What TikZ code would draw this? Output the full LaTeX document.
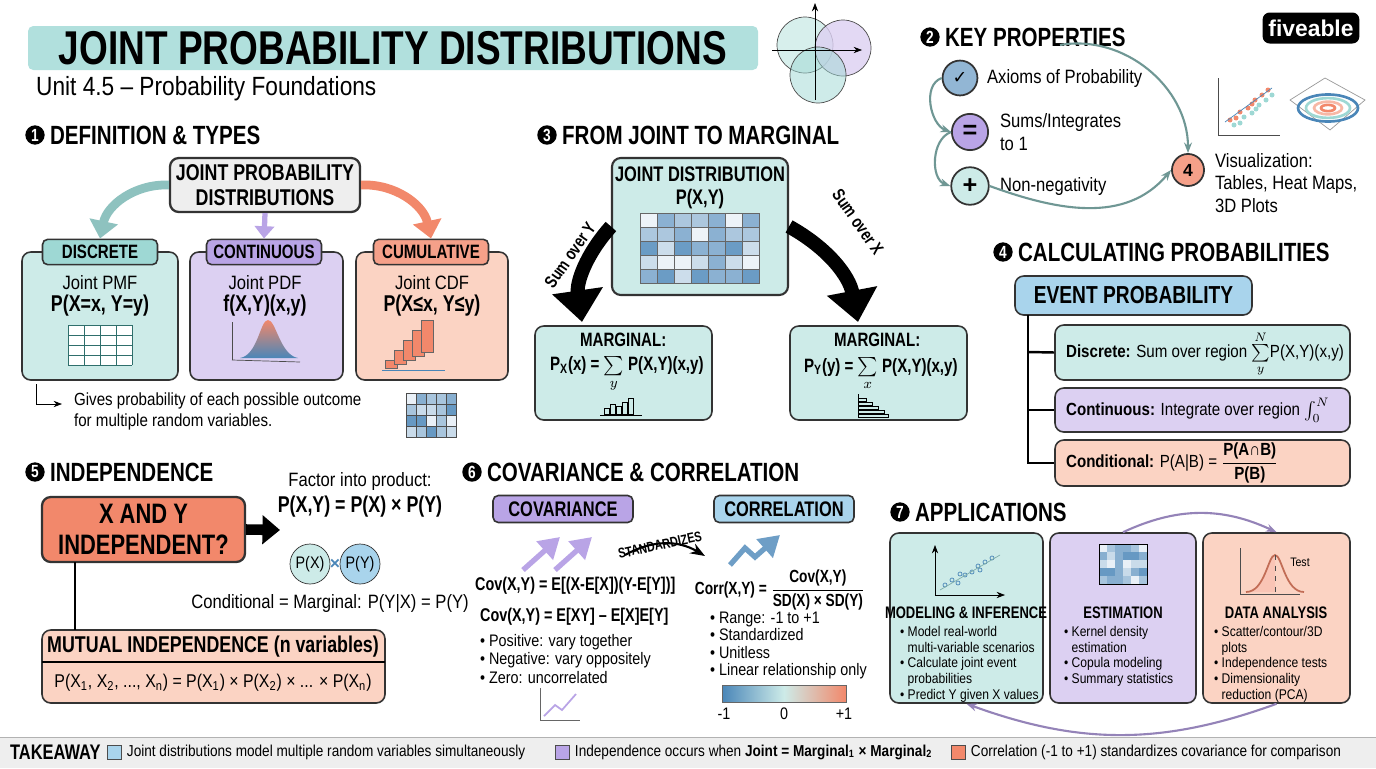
\documentclass[tikz,border=0pt]{standalone}
\usepackage{amsmath}
\usepackage{fontspec}
\setmainfont{Liberation Sans}
\newfontfamily\cond[FakeStretch=0.78]{Liberation Sans}
\newfontfamily\body[FakeStretch=0.86]{Liberation Sans}
\newfontfamily\sym{DejaVu Sans}
\usetikzlibrary{positioning,fit,arrows.meta,shapes.geometric}
\definecolor{teal1}{HTML}{CDEBE8}
\definecolor{teal2}{HTML}{9ED8D4}
\definecolor{tealD}{HTML}{2F6F6C}
\definecolor{pur1}{HTML}{DCD0F2}
\definecolor{pur2}{HTML}{B9A4E6}
\definecolor{sal1}{HTML}{FBD3C3}
\definecolor{sal2}{HTML}{F2886B}
\definecolor{blu1}{HTML}{A9D4EC}
\definecolor{blu2}{HTML}{4A86B8}
\definecolor{gray1}{HTML}{EEEEEE}
\tikzset{
  hd/.style={font=\cond\bfseries\fontsize{15}{16}\selectfont, inner sep=1pt},
  num/.style={circle, fill=black, text=white, font=\cond\bfseries\fontsize{10}{10}\selectfont, inner sep=1pt, minimum size=11pt},
  box/.style={draw=black!80, line width=0.9pt, rounded corners=5pt, inner sep=0pt},
  tab/.style={draw=black!80, line width=0.9pt, rounded corners=3pt, font=\cond\bfseries\fontsize{11}{12}\selectfont},
  txt/.style={font=\body\fontsize{9.5}{11}\selectfont, inner sep=1pt},
  big/.style={font=\cond\bfseries\fontsize{13}{14}\selectfont, inner sep=1pt},
  fat/.style={line width=5pt, -{Triangle[length=10pt,width=16pt]}},
  thin/.style={line width=1.2pt, draw=gray!70, -{Stealth[length=6pt]}},
}
\begin{document}
\begin{tikzpicture}[x=0.02cm, y=-0.02cm]
\useasboundingbox[fill=white] (0,0) rectangle (1376,768);
% title
\node[fill=teal2!80, rounded corners=3pt, fit={(28,26)(758,70)}, inner sep=0] (titlebox) {};
\node[font=\cond\bfseries\fontsize{27}{28}\selectfont] at (titlebox) {JOINT PROBABILITY DISTRIBUTIONS};
\node[anchor=west, font=\body\fontsize{15}{16}\selectfont] (sub) at (30,89) {Unit 4.5 – Probability Foundations};
% venn icon
\draw[black!70, fill=teal1, fill opacity=0.8] (805,45) circle (28);
\draw[black!70, fill=pur1, fill opacity=0.8] (843,48) circle (28);
\draw[black!70, fill=teal2, fill opacity=0.5] (818,75) circle (28);
\draw[-{Stealth}] (815,100) -- (815,3);
\draw[-{Stealth}] (772,50) -- (862,50);
% logo
\node[fill=black, rounded corners=4pt, text=white, font=\bfseries\fontsize{13}{14}\selectfont, minimum width=1.9cm, minimum height=0.62cm] (logo) at (1311,28) {fiveable};

% 1 definition
\node[num] (n1) at (35,135) {1};
\node[hd, anchor=west] at (48,135) {DEFINITION \& TYPES};
\node[box, fill=gray1, line width=1.3pt, fit={(170,158)(360,212)}] (jpd) {};
\node[big, align=center] at (jpd) {JOINT PROBABILITY\\DISTRIBUTIONS};
\node[box, fill=teal1, fit={(22,252)(178,380)}] (disc) {};
\node[box, fill=pur1, fit={(190,252)(343,380)}] (cont) {};
\node[box, fill=sal1, fit={(356,252)(508,380)}] (cum) {};
\node[tab, fill=teal2, minimum width=2.3cm] (tdisc) at (100,252) {DISCRETE};
\node[tab, fill=pur2, minimum width=2.3cm] (tcont) at (264,252) {CONTINUOUS};
\node[tab, fill=sal2!80, minimum width=2.3cm] (tcum) at (431,252) {CUMULATIVE};
\draw[fat, teal2!90!black] (jpd.west) to[bend right=40] (tdisc.north);
\draw[line width=3pt, pur2, -{Triangle[length=7pt,width=11pt]}] (jpd.south) -- (tcont.north);
\draw[fat, sal2] (jpd.east) to[bend left=40] (tcum.north);
\node[txt, font=\body\fontsize{11}{12}\selectfont] at (100,283) {Joint PMF};
\node[big] at (100,306) {P(X=x, Y=y)};
\node[txt, font=\body\fontsize{11}{12}\selectfont] at (265,283) {Joint PDF};
\node[big] at (265,306) {f(X,Y)(x,y)};
\node[txt, font=\body\fontsize{11}{12}\selectfont] at (432,283) {Joint CDF};
\node[big] at (432,306) {P(X≤x, Y≤y)};
% icons
\fill[white] (68,325) rectangle (132,365);
\foreach \i in {0,...,4} \draw[tealD] (68,325+10*\i) -- (132,325+10*\i);
\foreach \i in {0,...,4} \draw[tealD] (68+16*\i,325) -- (68+16*\i,365);
\draw[black!70] (232,360) -- (232,322); \draw[black!70] (232,360) -- (300,362);
\shade[top color=sal2, bottom color=blu2] (240,358) .. controls (258,355) and (260,320) .. (268,320) .. controls (276,320) and (280,355) .. (298,358) -- cycle;
\foreach \i in {0,...,4}
  \fill[sal2, draw=black!60] (385+9*\i,368-4*\i) rectangle ++(12,-8-6*\i);
\draw[blu2] (382,370) -- (445,370);

% caption
\draw[-{Stealth}] (36,384) |- (62,404);
\node[txt, anchor=west, align=left, font=\body\fontsize{10}{12}\selectfont] at (72,411) {Gives probability of each possible outcome\\for multiple random variables.};
\foreach \i in {0,...,4} \foreach \j in {0,...,3}{
  \pgfmathsetmacro{\s}{mod(\i*\i*3+\j*7+\i*\j,5)*18+12}
  \fill[blu2!\s!white, draw=black!70] (406+10*\i,393+11*\j) rectangle ++(10,11);}

% 3 joint to marginal
\node[num] (n3) at (547,135) {3};
\node[hd, anchor=west] at (560,135) {FROM JOINT TO MARGINAL};
\node[box, fill=teal1, line width=1.2pt, fit={(612,158)(788,295)}] (joint) {};
\node[big, align=center, font=\cond\bfseries\fontsize{12}{13}\selectfont] at (700,188) {JOINT DISTRIBUTION\\P(X,Y)};
\foreach \i in {0,...,6} \foreach \j in {0,...,4}{
  \pgfmathsetmacro{\s}{mod(\i*\i*3+\j*7+\i*\j*2,5)*18+10}
  \fill[blu2!\s!white, draw=black!60] (640+17*\i,213+14*\j) rectangle ++(17,14);}
\node[box, fill=teal1, fit={(535,326)(712,420)}] (mx) {};
\node[box, fill=teal1, fit={(790,326)(967,420)}] (my) {};
\draw[fat, line width=8pt, -{Triangle[length=18pt,width=28pt]}] (joint.west) to[bend right=25] (582,322);
\draw[fat, line width=8pt, -{Triangle[length=18pt,width=28pt]}] (joint.east) to[bend left=25] (858,322);
\node[big, rotate=55, font=\cond\bfseries\fontsize{10}{11}\selectfont] at (570,255) {Sum over Y};
\node[big, rotate=-55, font=\cond\bfseries\fontsize{10}{11}\selectfont] at (858,222) {Sum over X};
\node[big, anchor=west, font=\cond\bfseries\fontsize{11}{12}\selectfont] at (578,340) {MARGINAL:};
\node[big, anchor=west, font=\cond\bfseries\fontsize{11}{12}\selectfont] at (548,374) {P\textsubscript{X}(x) = $\sum\limits_y$ P(X,Y)(x,y)};
\node[big, anchor=west, font=\cond\bfseries\fontsize{11}{12}\selectfont] at (832,340) {MARGINAL:};
\node[big, anchor=west, font=\cond\bfseries\fontsize{11}{12}\selectfont] at (802,374) {P\textsubscript{Y}(y) = $\sum\limits_x$ P(X,Y)(x,y)};
\foreach \h [count=\i] in {6,10,8,12,16} \draw (598+6*\i,414) rectangle ++(5,-\h);
\draw (600,415) -- (642,415);
\foreach \w [count=\i] in {8,14,20,26,30} \draw (858,394+4*\i) rectangle ++(\w,3);
\draw (858,394) -- (858,416);

% 2 key properties
\node[num] (n2) at (930,37) {2};
\node[hd, anchor=west] at (943,37) {KEY PROPERTIES};
\node[circle, draw=black!80, line width=1pt, fill=blu2!60, minimum size=0.64cm, font=\sym\bfseries] (c1) at (960,78) {✓};
\node[txt, anchor=west, font=\body\fontsize{11}{13}\selectfont] at (985,78) {Axioms of Probability};
\node[circle, draw=black!80, line width=1pt, fill=pur2, minimum size=0.64cm, font=\bfseries\Large] (c2) at (970,132) {=};
\node[txt, anchor=west, align=left, font=\body\fontsize{11}{13}\selectfont] at (998,132) {Sums/Integrates\\to 1};
\node[circle, draw=black!80, line width=1pt, fill=teal1, minimum size=0.64cm, font=\bfseries\Large] (c3) at (970,186) {+};
\node[txt, anchor=west, font=\body\fontsize{11}{13}\selectfont] at (998,186) {Non-negativity};
\node[circle, draw=black!80, line width=1pt, fill=sal2!80, minimum size=0.64cm, font=\bfseries] (c4) at (1188,170) {4};
\node[txt, anchor=west, align=left, font=\body\fontsize{11}{13}\selectfont] at (1213,183) {Visualization:\\Tables, Heat Maps,\\3D Plots};
\draw[thin, draw=teal2!70!black] (c1.west) to[out=200, in=160] (c2.west);
\draw[thin, draw=teal2!70!black] (c2.west) to[out=200, in=160] (c3.west);
\draw[thin, draw=teal2!70!black] (c3.east) to[out=-20, in=230] (c4.west);
\draw[thin, draw=teal2!70!black] (1060,45) to[out=10, in=90] (c4.north);
\draw[black!70] (1218,78) -- (1218,135) -- (1280,135);
\foreach \a/\b in {1230/120,1240/112,1248/108,1255/100,1262/95,1236/118,1252/104,1268/90} {\fill[sal2] (\a,\b) circle (2.5); \fill[teal2] (\a+4,\b+5) circle (2.5);}
\draw[blu2] (1225,122) -- (1272,88);
\draw[black!40] (1290,100) -- (1325,78) -- (1365,100) -- (1330,130) -- cycle;
\foreach \r/\c in {30/blu2,22/teal2,14/sal2!60,7/sal2}
  \draw[\c, line width=1.5pt] (1328,108) ellipse ({\r} and {\r*0.45});

% 4 calculating
\node[num] (n4) at (1003,252) {4};
\node[hd, anchor=west] at (1016,252) {CALCULATING PROBABILITIES};
\node[box, fill=blu1, fit={(1015,276)(1252,315)}] (ev) {};
\node[big, font=\cond\bfseries\fontsize{14}{15}\selectfont] at (ev) {EVENT PROBABILITY};
\node[box, fill=teal1, fit={(1055,325)(1350,380)}] (ed) {};
\node[box, fill=pur1, fit={(1055,388)(1350,432)}] (ec) {};
\node[box, fill=sal1, fit={(1055,440)(1350,486)}] (eo) {};
\draw[line width=1.4pt] (1028,315) -- (1028,463) -- (eo.west);
\draw[line width=1.4pt] (1028,352) -- (ed.west);
\draw[line width=1.4pt] (1028,410) -- (ec.west);
\node[txt, anchor=west, font=\body\fontsize{10}{12}\selectfont] at (1064,354) {\textbf{Discrete:} Sum over region $\sum\limits_y^N$P(X,Y)(x,y)};
\node[txt, anchor=west, font=\body\fontsize{10}{12}\selectfont] at (1064,410) {\textbf{Continuous:} Integrate over region $\int_0^N$};
\node[txt, anchor=west, font=\body\fontsize{10}{12}\selectfont] at (1064,463) {\textbf{Conditional:} P(A|B) = $\dfrac{\text{\textbf{P(A∩B)}}}{\text{\textbf{P(B)}}}$};

% 5 independence
\node[num] (n5) at (35,472) {5};
\node[hd, anchor=west] at (48,472) {INDEPENDENCE};
\node[box, fill=sal2, line width=1.3pt, fit={(42,497)(245,562)}] (xy) {};
\node[big, align=center, font=\cond\bfseries\fontsize{16}{18}\selectfont] at (xy) {X AND Y\\INDEPENDENT?};
\coordinate (fa) at (280,530);
\draw[fat, line width=6pt] (xy.east) -- (fa);
\node[txt, font=\body\fontsize{11}{13}\selectfont] (fac) at (360,481) {Factor into product:};
\node[big, below=1pt of fac] (prod) {P(X,Y) = P(X) × P(Y)};
\node[circle, draw=black!80, fill=teal1, minimum size=0.8cm, txt] (px) at (310,564) {P(X)};
\node[circle, draw=black!80, fill=blu1, minimum size=0.8cm, txt] (py) at (360,564) {P(Y)};
\node[blu2, font=\bfseries] at (335,564) {×};
\node[txt, font=\body\fontsize{11}{13}\selectfont] (cm) at (330,604) {Conditional = Marginal: P(Y|X) = P(Y)};
\node[box, fill=sal1, fit={(42,630)(385,703)}] (mut) {};
\draw[line width=1.2pt] (75,562) -- (75,630);
\draw[line width=0.9pt] (42,662) -- (385,662);
\node[big, font=\cond\bfseries\fontsize{13}{14}\selectfont] at (213,647) {MUTUAL INDEPENDENCE (n variables)};
\node[txt, font=\body\fontsize{10.5}{12}\selectfont] at (213,683) {P(X\textsubscript{1}, X\textsubscript{2}, ..., X\textsubscript{n}) = P(X\textsubscript{1}) × P(X\textsubscript{2}) × ... × P(X\textsubscript{n})};

% 6 covariance
\node[num] (n6) at (472,472) {6};
\node[hd, anchor=west] at (485,472) {COVARIANCE \& CORRELATION};
\node[tab, fill=pur2, minimum width=2.8cm, minimum height=0.54cm, font=\cond\bfseries\fontsize{12}{13}\selectfont] (tcov) at (563,509) {COVARIANCE};
\node[tab, fill=blu1, minimum width=2.8cm, minimum height=0.54cm, font=\cond\bfseries\fontsize{12}{13}\selectfont] (tcor) at (784,509) {CORRELATION};
\draw[pur2, line width=3pt, -{Triangle}] (523,570) -- (560,537);
\draw[pur2, line width=3pt, -{Triangle}] (555,570) -- (592,537);
\draw[blu2!80, line width=3pt, -{Triangle}] (730,565) -- (745,548) -- (755,557) -- (780,535);
\node[font=\cond\bfseries\fontsize{8}{9}\selectfont, rotate=12] at (660,545) {STANDARDIZES};
\draw[-{Stealth}, line width=1.2pt] (625,555) to[bend left=30] (705,556);
\node[big, font=\cond\bfseries\fontsize{10.5}{12}\selectfont, anchor=west] at (473,586) {Cov(X,Y) = E[(X-E[X])(Y-E[Y])]};
\node[big, font=\cond\bfseries\fontsize{10.5}{12}\selectfont, anchor=west] at (478,617) {Cov(X,Y) = E[XY] – E[X]E[Y]};
\node[txt, anchor=north west, align=left, font=\body\fontsize{9.5}{10.5}\selectfont] at (478,632) {\textbullet\ Positive: vary together\\\textbullet\ Negative: vary oppositely\\\textbullet\ Zero: uncorrelated};
\draw[black!60] (540,688) -- (540,720) -- (580,720);
\draw[pur2, line width=1pt] (544,716) -- (555,705) -- (562,710) -- (576,694);
\node[big, font=\cond\bfseries\fontsize{10}{11}\selectfont] at (780,590) {Corr(X,Y) = $\dfrac{\text{\textbf{Cov(X,Y)}}}{\text{\textbf{SD(X) × SD(Y)}}}$};
\node[txt, anchor=north west, align=left, font=\body\fontsize{9.5}{9.8}\selectfont] at (708,610) {\textbullet\ Range: -1 to +1\\\textbullet\ Standardized\\\textbullet\ Unitless\\\textbullet\ Linear relationship only};
\shade[left color=blu2, right color=sal2, middle color=teal1] (722,685) rectangle (846,702);
\draw[black!60] (722,685) rectangle (846,702);
\node[txt] at (724,714) {-1}; \node[txt] at (784,714) {0}; \node[txt] at (844,714) {+1};

% 7 applications
\node[num] (n7) at (900,512) {7};
\node[hd, anchor=west] at (913,512) {APPLICATIONS};
\node[box, fill=teal1, fit={(890,533)(1043,703)}] (mod) {};
\node[box, fill=pur1, fit={(1050,533)(1196,703)}] (est) {};
\node[box, fill=sal1, fit={(1203,533)(1350,703)}] (dat) {};
\draw[thin, draw=pur2!80!black] (est.north) to[bend left=25] (dat.north);
\draw[thin, draw=pur2!80!black] (dat.south) to[bend left=20] (mod.south);
\draw[-{Stealth}] (935,595) -- (935,545); \draw[-{Stealth}] (935,595) -- (1005,595);
\foreach \a/\b in {945/585,952/580,958/583,965/575,972/572,978/566,985/562,992/558,960/574,980/570}
  \draw[blu2] (\a,\b) circle (2);
\draw[teal2!80!black] (940,590) -- (1000,555);
\foreach \i in {0,...,5} \foreach \j in {0,...,4}{
  \pgfmathsetmacro{\s}{mod(\i*\i*2+\j*3+\i*\j,5)*18+12}
  \fill[blu2!\s!white] (1099+8*\i,544+8*\j) rectangle ++(8,8);}
\draw (1099,544) rectangle (1147,584);
\draw[black!70] (1240,594) -- (1240,548); \draw[black!70] (1240,594) -- (1300,594);
\fill[sal2!50] (1248,592) .. controls (1265,592) and (1268,555) .. (1275,555) -- (1275,592) -- cycle;
\draw[sal2!80!black, line width=1pt] (1246,592) .. controls (1265,592) and (1268,555) .. (1275,555) .. controls (1282,555) and (1285,592) .. (1304,592);
\draw[black!70, dashed] (1275,555) -- (1275,592);
\node[font=\body\fontsize{7}{8}\selectfont] at (1300,562) {Test};
\node[big, font=\cond\bfseries\fontsize{9.5}{11}\selectfont] at (966,613) {MODELING \& INFERENCE};
\node[big, font=\cond\bfseries\fontsize{9.5}{11}\selectfont] at (1123,613) {ESTIMATION};
\node[big, font=\cond\bfseries\fontsize{9.5}{11}\selectfont] at (1276,613) {DATA ANALYSIS};
\node[txt, anchor=north west, align=left, font=\body\fontsize{8}{9}\selectfont] at (898,624) {\textbullet\ Model real-world\\\phantom{\textbullet\ }multi-variable scenarios\\\textbullet\ Calculate joint event\\\phantom{\textbullet\ }probabilities\\\textbullet\ Predict Y given X values};
\node[txt, anchor=north west, align=left, font=\body\fontsize{8}{9}\selectfont] at (1062,624) {\textbullet\ Kernel density\\\phantom{\textbullet\ }estimation\\\textbullet\ Copula modeling\\\textbullet\ Summary statistics};
\node[txt, anchor=north west, align=left, font=\body\fontsize{8}{9}\selectfont] at (1212,624) {\textbullet\ Scatter/contour/3D\\\phantom{\textbullet\ }plots\\\textbullet\ Independence tests\\\textbullet\ Dimensionality\\\phantom{\textbullet\ }reduction (PCA)};

% takeaway
\fill[gray1] (0,737) rectangle (1376,768);
\draw[black!30] (0,737) -- (1376,737);
\node[big, anchor=west, font=\cond\bfseries\fontsize{12}{13}\selectfont] at (8,752) {TAKEAWAY};
\node[draw=black!70, fill=blu1, minimum size=0.28cm, inner sep=0] (k1) at (114,752) {};
\node[txt, anchor=west, right=2pt of k1, font=\body\fontsize{9}{10}\selectfont] {Joint distributions model multiple random variables simultaneously};
\node[draw=black!70, fill=pur2, minimum size=0.28cm, inner sep=0] (k2) at (562,752) {};
\node[txt, anchor=west, right=2pt of k2, font=\body\fontsize{9}{10}\selectfont] {Independence occurs when \textbf{Joint = Marginal\textsubscript{1} × Marginal\textsubscript{2}}};
\node[draw=black!70, fill=sal2, minimum size=0.28cm, inner sep=0] (k3) at (958,752) {};
\node[txt, anchor=west, right=2pt of k3, font=\body\fontsize{9}{10}\selectfont] {Correlation (-1 to +1) standardizes covariance for comparison};
\end{tikzpicture}
\end{document}
